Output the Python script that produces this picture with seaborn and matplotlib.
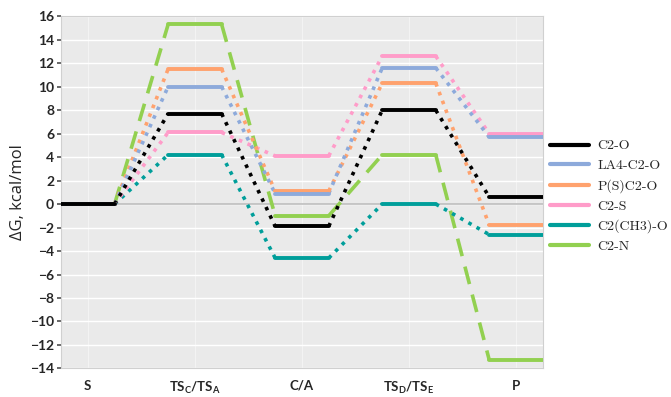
import matplotlib
matplotlib.use("Agg")
import matplotlib.pyplot as plt
import seaborn as sns
import numpy as np
import pandas as pd
from matplotlib.lines import Line2D

stages = ["S", r"TS$_\mathregular{C}$/TS$_\mathregular{A}$", "C/A",
          r"TS$_\mathregular{D}$/TS$_\mathregular{E}$", "P"]
series = ["C2-O", "LA4-C2-O", "P(S)C2-O", "C2-S", "C2(CH3)-O", "C2-N"]
c2_o = [0, 7.7, -1.9, 8.0, 0.6]
la4_c2_o = [0, 10.0, 0.9, 11.6, 5.7]
ps_c2_o = [0, 11.5, 1.1, 10.3, -1.8]
c2_s = [0, 6.1, 4.1, 12.6, 6.0]
c2_ch3_o = [0, 4.2, -4.6, 0.0, -2.6]
c2_n = [0, 15.3, -1.0, 4.2, -13.3]
values = [c2_o, la4_c2_o, ps_c2_o, c2_s, c2_ch3_o, c2_n]
colors = ["#000000", "#8DAADB", "#FFA26E", "#FF9CC9", "#009E9A", "#92D050"]
conn_styles = [(0, (1, 1.6)), (0, (1, 1.6)), (0, (1, 1.6)), (0, (1, 1.6)),
               (0, (1, 1.6)), (0, (5, 3))]

sns.set_theme(style="darkgrid", rc={"axes.facecolor": "#EAEAEA",
                                    "grid.color": "white"})
plt.rcParams["font.family"] = ["Lato", "DejaVu Sans"]
plt.rcParams["mathtext.fontset"] = "custom"
plt.rcParams["mathtext.rm"] = "Lato:bold"

fig = plt.figure(figsize=(6.71, 3.97), dpi=100)
ax = fig.add_axes([0.091, 0.072, 0.718, 0.887])

hw = 0.25
for idx in reversed(range(len(series))):
    vals = values[idx]
    col = colors[idx]
    for k, v in enumerate(vals):
        d = pd.DataFrame({"x": [k - hw, k + hw], "y": [v, v]})
        sns.lineplot(data=d, x="x", y="y", ax=ax, color=col, lw=2.8,
                     sort=False, estimator=None, zorder=3 + (6 - idx) * 0.1)
    for k in range(len(vals) - 1):
        d = pd.DataFrame({"x": [k + hw, k + 1 - hw], "y": [vals[k], vals[k + 1]]})
        sns.lineplot(data=d, x="x", y="y", ax=ax, color=col, lw=2.6,
                     linestyle=conn_styles[idx], sort=False, estimator=None,
                     zorder=2.5)

handles = [Line2D([], [], color=c, lw=3) for c in colors]
leg = fig.legend(handles, series, loc="upper left", bbox_to_anchor=(0.82, 0.648),
                 frameon=False, prop={"family": "cmr10", "size": 10},
                 handlelength=2.8, handletextpad=0.6, labelspacing=0.5,
                 borderaxespad=0, borderpad=0)

ax.axhline(0, color="#BDBDBD", lw=1.2, zorder=2)
ax.set_xlim(-0.25, 4.25)
ax.set_ylim(-14, 16)
ax.set_yticks(np.arange(-14, 17, 2))
ax.set_yticklabels([str(t).replace("-", "\u2212") for t in range(-14, 17, 2)],
                   fontweight="bold", fontsize=10)
ax.set_xticks(range(5))
ax.set_xticklabels(stages, fontweight="bold", fontsize=9.5)
ax.tick_params(axis="y", left=True, length=3, color="#555555", pad=2)
ax.tick_params(axis="x", bottom=False, pad=2)
ax.set_xlabel("")
ax.set_ylabel("\u0394G, kcal/mol", fontsize=12, labelpad=3,
              family=["Open Sans", "DejaVu Sans"])
for s in ax.spines.values():
    s.set_visible(True)
    s.set_color("#D0D0D0")
    s.set_linewidth(0.8)
ax.grid(True, color="white", lw=1)
ax.xaxis.grid(True, color="#F3F3F3", lw=0.8)

fig.savefig("out.png", dpi=100)
